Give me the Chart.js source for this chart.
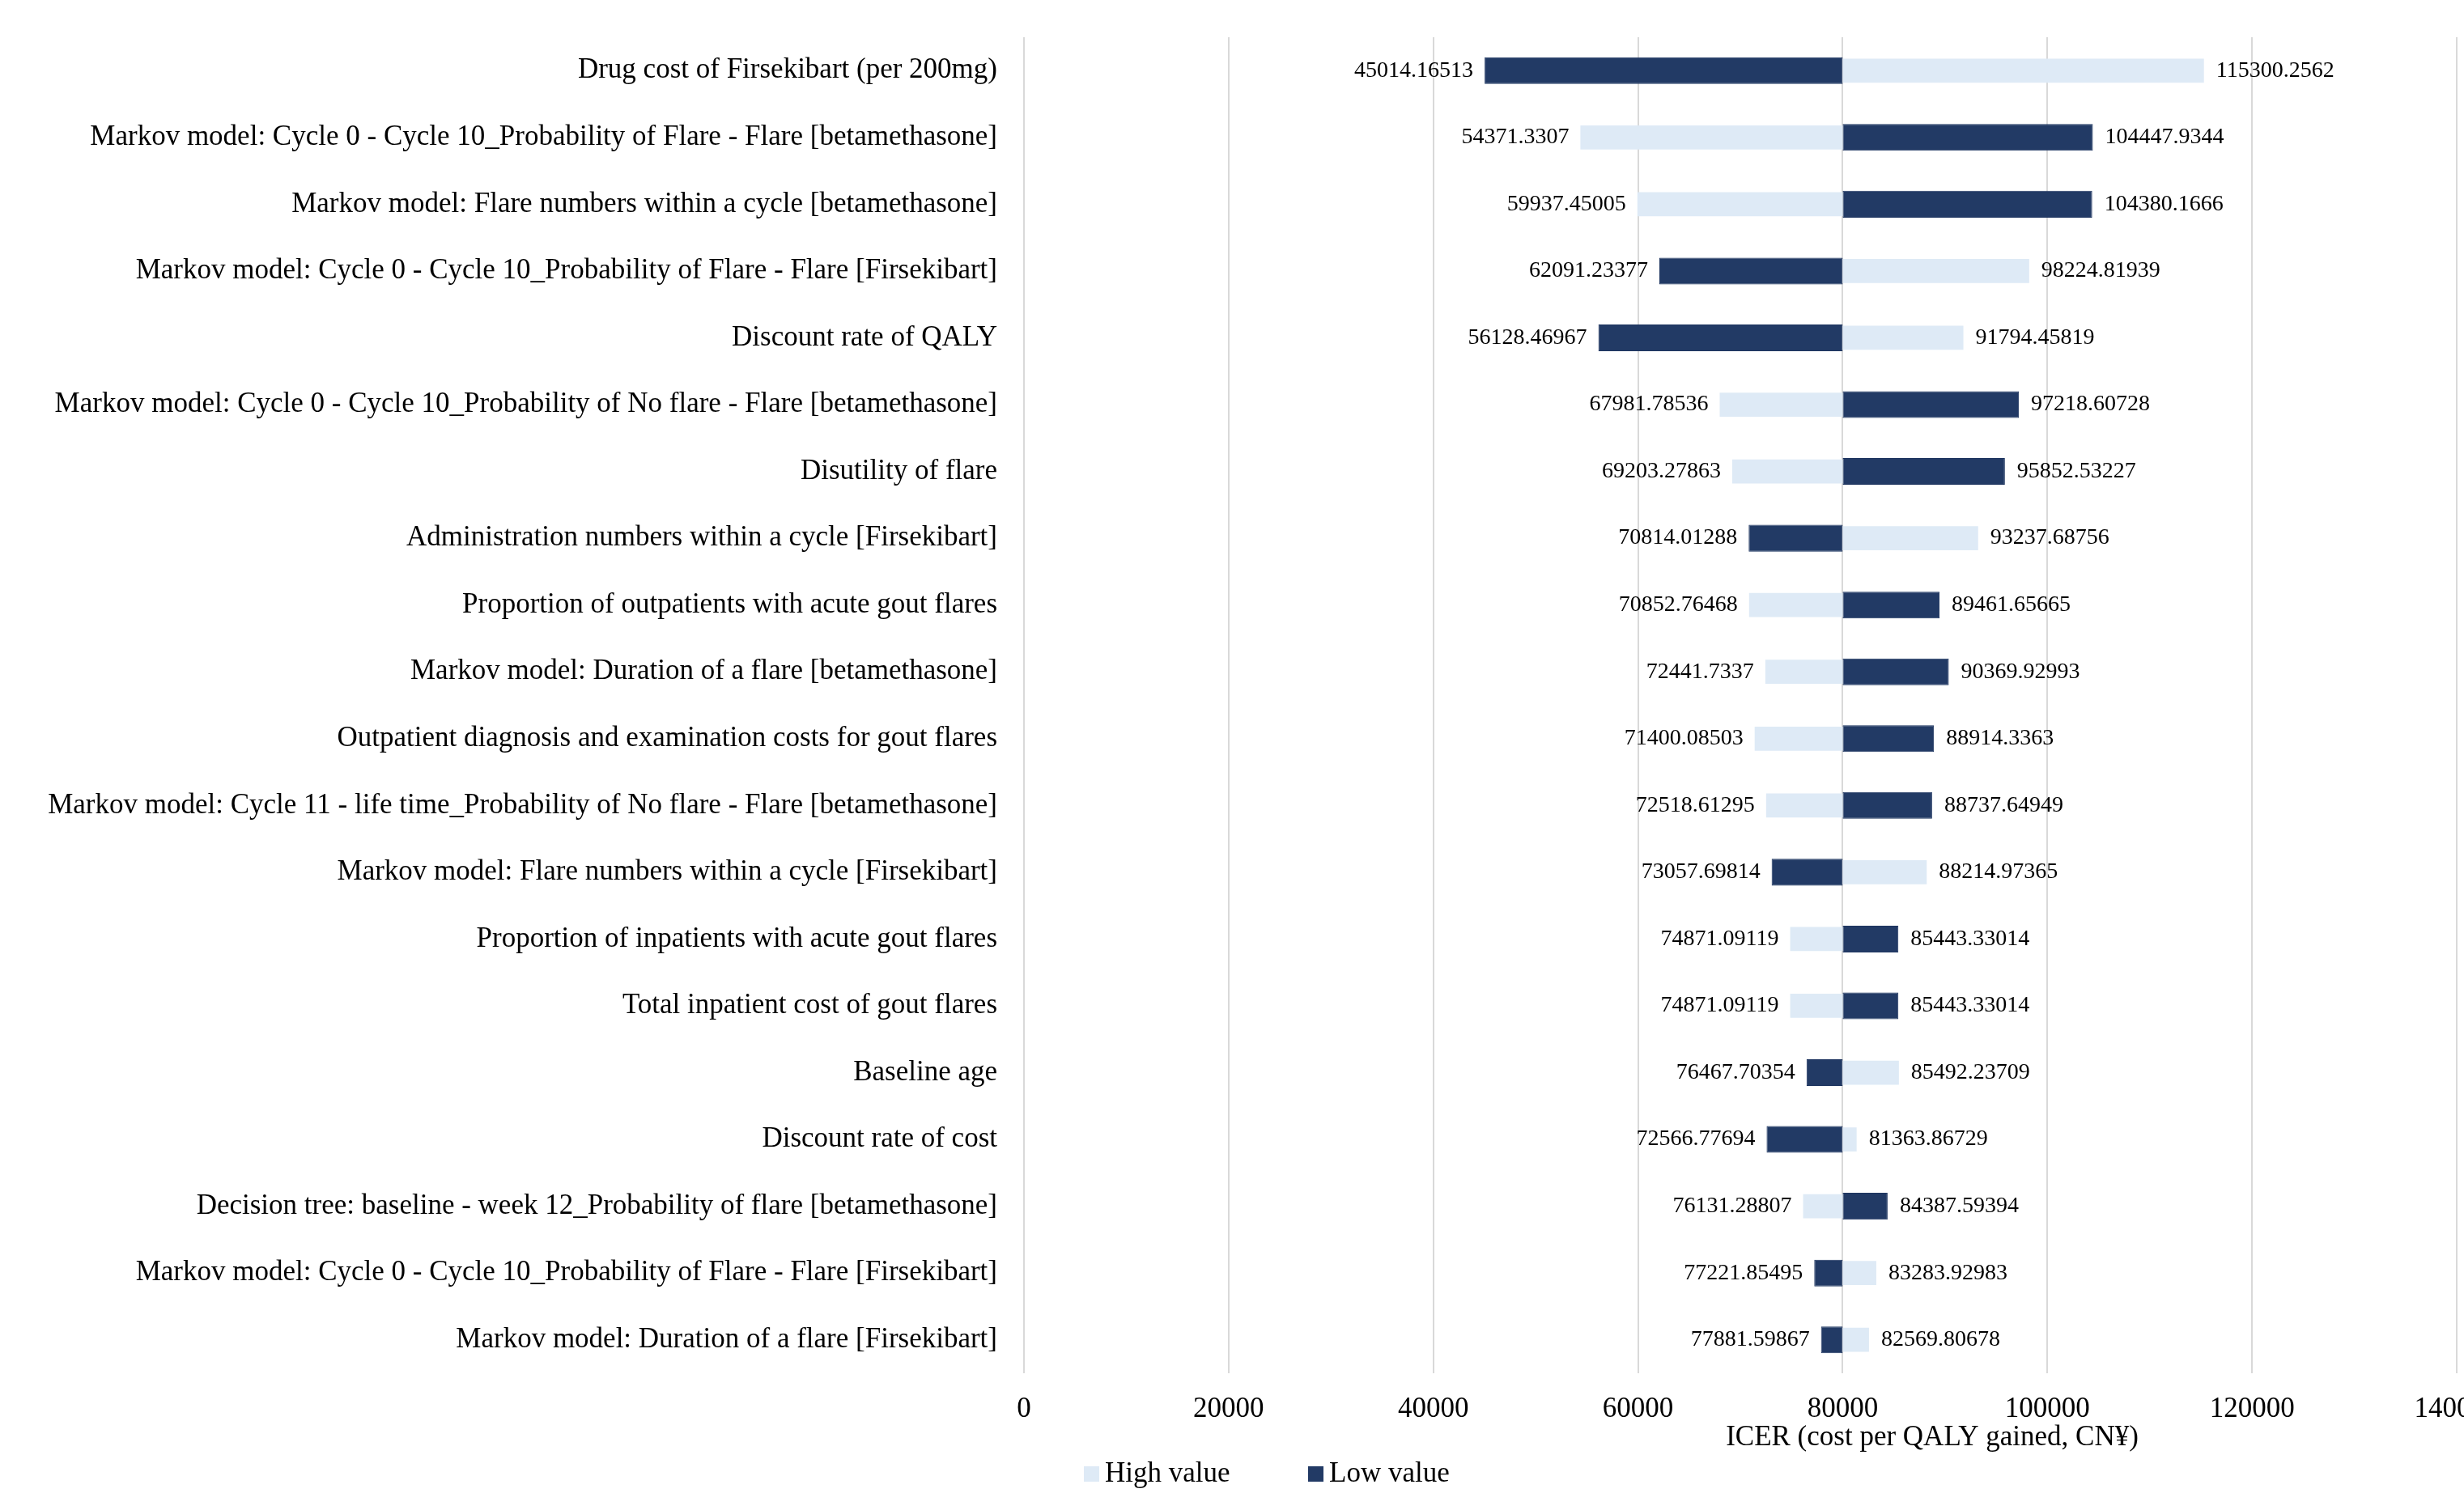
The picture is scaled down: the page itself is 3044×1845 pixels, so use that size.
<!DOCTYPE html>
<html>
<head>
<meta charset="utf-8">
<script src="https://cdn.jsdelivr.net/npm/chart.js@4.4.0/dist/chart.umd.min.js"></script>
<style>
  html, body { margin: 0; padding: 0; background: #fff; overflow: hidden; }
  canvas { display: block; }
</style>
</head>
<body>
<canvas id="tornado" width="3200" height="1845"></canvas>
<script>
// one-way sensitivity analysis, ICER for each parameter at its high / low bound
const parameters = [
  'Drug cost of Firsekibart (per 200mg)',
  'Markov model: Cycle 0 - Cycle 10_Probability of Flare - Flare [betamethasone]',
  'Markov model: Flare numbers within a cycle [betamethasone]',
  'Markov model: Cycle 0 - Cycle 10_Probability of Flare - Flare [Firsekibart]',
  'Discount rate of QALY',
  'Markov model: Cycle 0 - Cycle 10_Probability of No flare - Flare [betamethasone]',
  'Disutility of flare',
  'Administration numbers within a cycle [Firsekibart]',
  'Proportion of outpatients with acute gout flares',
  'Markov model: Duration of a flare [betamethasone]',
  'Outpatient diagnosis and examination costs for gout flares',
  'Markov model: Cycle 11 - life time_Probability of No flare - Flare [betamethasone]',
  'Markov model: Flare numbers within a cycle [Firsekibart]',
  'Proportion of inpatients with acute gout flares',
  'Total inpatient cost of gout flares',
  'Baseline age',
  'Discount rate of cost',
  'Decision tree: baseline - week 12_Probability of flare [betamethasone]',
  'Markov model: Cycle 0 - Cycle 10_Probability of Flare - Flare [Firsekibart]',
  'Markov model: Duration of a flare [Firsekibart]'
];

const highValue = [
  115300.2562, 54371.3307, 59937.45005, 98224.81939, 91794.45819,
  67981.78536, 69203.27863, 93237.68756, 70852.76468, 72441.7337,
  71400.08503, 72518.61295, 88214.97365, 74871.09119, 74871.09119,
  85492.23709, 81363.86729, 76131.28807, 83283.92983, 82569.80678
];

const lowValue = [
  45014.16513, 104447.9344, 104380.1666, 62091.23377, 56128.46967,
  97218.60728, 95852.53227, 70814.01288, 89461.65665, 90369.92993,
  88914.3363, 88737.64949, 73057.69814, 85443.33014, 85443.33014,
  76467.70354, 72566.77694, 84387.59394, 77221.85495, 77881.59867
];

const baseIcer = 80000;
const xTickValues = [0, 20000, 40000, 60000, 80000, 100000, 120000, 140000];

const FONT = '"Liberation Serif", "Times New Roman", serif';
const LIGHT = '#DEEAF6';
const DARK = '#223A65';

// value labels at the outer end of each bar
const barLabels = {
  id: 'barLabels',
  afterDatasetsDraw(chart) {
    const ctx = chart.ctx;
    const xs = chart.scales.x;
    ctx.save();
    ctx.font = '28px ' + FONT;
    ctx.fillStyle = '#000';
    ctx.textBaseline = 'middle';
    chart.data.datasets.forEach((ds, i) => {
      const meta = chart.getDatasetMeta(i);
      ds.values.forEach((v, j) => {
        const px = xs.getPixelForValue(v);
        const y = meta.data[j].y;
        if (v < baseIcer) {
          ctx.textAlign = 'right';
          ctx.fillText(String(v), px - 14, y);
        } else {
          ctx.textAlign = 'left';
          ctx.fillText(String(v), px + 15, y);
        }
      });
    });
    ctx.restore();
  }
};

// axis title and legend sit below the tick labels
const footer = {
  id: 'footer',
  afterDraw(chart) {
    const ctx = chart.ctx;
    ctx.save();
    ctx.fillStyle = '#000';
    ctx.font = '35px ' + FONT;
    ctx.textBaseline = 'middle';
    ctx.textAlign = 'center';
    ctx.fillText('ICER (cost per QALY gained, CN\u00A5)', 2387, 1777);

    ctx.textAlign = 'left';
    const items = [
      { text: 'High value', color: LIGHT, x: 1339 },
      { text: 'Low value', color: DARK, x: 1616 }
    ];
    items.forEach(it => {
      ctx.fillStyle = it.color;
      ctx.fillRect(it.x, 1812, 19, 19);
      ctx.fillStyle = '#000';
      ctx.fillText(it.text, it.x + 26, 1822);
    });
    ctx.restore();
  }
};

new Chart(document.getElementById('tornado'), {
  type: 'bar',
  data: {
    labels: parameters,
    datasets: [
      {
        label: 'High value',
        values: highValue,
        data: highValue.map(v => [baseIcer, v]),
        backgroundColor: LIGHT,
        grouped: false,
        barPercentage: 0.36,
        categoryPercentage: 1
      },
      {
        label: 'Low value',
        values: lowValue,
        data: lowValue.map(v => [baseIcer, v]),
        backgroundColor: DARK,
        borderColor: '#1E3560',
        borderWidth: 1,
        borderSkipped: false,
        grouped: false,
        barPercentage: 0.40,
        categoryPercentage: 1
      }
    ]
  },
  options: {
    indexAxis: 'y',
    responsive: false,
    animation: false,
    layout: { padding: { top: 28, right: 165, left: 0, bottom: 0 } },
    plugins: {
      legend: { display: false },
      tooltip: { enabled: false }
    },
    scales: {
      x: {
        min: 0,
        max: 140000,
        afterBuildTicks: s => { s.ticks = xTickValues.map(v => ({ value: v })); },
        afterFit: s => { s.height = 148; },
        grid: { color: '#D9D9D9', lineWidth: 2, drawTicks: false },
        border: { display: false },
        ticks: {
          padding: 24,
          color: '#000',
          font: { family: FONT, size: 35 },
          maxRotation: 0,
          callback: v => String(v)
        }
      },
      y: {
        afterFit: s => { s.width = 1265; },
        grid: { display: false },
        border: { display: false },
        ticks: {
          padding: 25,
          color: '#000',
          autoSkip: false,
          font: { family: FONT, size: 35 }
        }
      }
    }
  },
  plugins: [barLabels, footer]
});
</script>
</body>
</html>
